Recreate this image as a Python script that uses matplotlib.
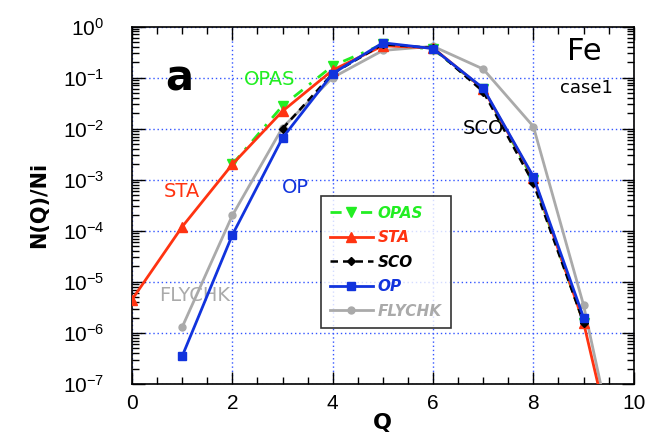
import matplotlib
matplotlib.use("Agg")
import matplotlib.pyplot as plt
from matplotlib.ticker import LogLocator, MultipleLocator, NullFormatter
import numpy as np

plt.rcParams["font.family"] = ["Liberation Sans", "DejaVu Sans"]
plt.rcParams["mathtext.default"] = "regular"

q_opas = [2, 3, 4, 5, 6, 7, 8, 9]
n_opas = [2.0e-3, 2.8e-2, 0.17, 0.45, 0.36, 0.06, 1.0e-3, 1.6e-6]

q_sta = [0, 1, 2, 3, 4, 5, 6, 7, 8, 9, 10]
n_sta = [4.5e-6, 1.2e-4, 2.0e-3, 2.2e-2, 0.14, 0.42, 0.38, 0.06, 1.1e-3, 1.6e-6, 1e-10]

q_sco = [3, 4, 5, 6, 7, 8, 9]
n_sco = [1.0e-2, 0.12, 0.45, 0.38, 0.053, 8.5e-4, 1.6e-6]

q_op = [1, 2, 3, 4, 5, 6, 7, 8, 9]
n_op = [3.5e-7, 8.3e-5, 6.6e-3, 0.12, 0.48, 0.37, 0.062, 1.15e-3, 2.0e-6]

q_fly = [1, 2, 3, 4, 5, 6, 7, 8, 9, 10]
n_fly = [1.3e-6, 2.0e-4, 1.05e-2, 0.10, 0.34, 0.41, 0.147, 1.1e-2, 3.5e-6, 1e-10]

ytick_vals = [1e-7, 1e-6, 1e-5, 1e-4, 1e-3, 1e-2, 1e-1, 1e0]
ytick_labels = [r"10$^{-7}$", r"10$^{-6}$", r"10$^{-5}$", r"10$^{-4}$", r"10$^{-3}$",
                r"10$^{-2}$", r"10$^{-1}$", r"10$^{0}$"]
xtick_vals = [0, 2, 4, 6, 8, 10]

fig = plt.figure(figsize=(6.48, 4.34), dpi=100)
ax = fig.add_axes([0.2037, 0.1152, 0.7743, 0.8237])

c_opas = "#22ee22"
c_sta = "#ff3311"
c_sco = "black"
c_op = "#1133dd"
c_fly = "#aaaaaa"

ax.plot(q_fly, n_fly, color=c_fly, lw=2, marker="o", ms=5, label="FLYCHK", zorder=3)
ax.plot(q_sta, n_sta, color=c_sta, lw=2, marker="^", ms=7, label="STA", zorder=4)
ax.plot(q_opas, n_opas, color=c_opas, lw=2, ls=(0, (4, 3, 1, 3)), marker="v", ms=7, label="OPAS", zorder=3.5)
ax.plot(q_sco, n_sco, color=c_sco, lw=1.8, ls=(0, (3, 2)), marker="D", ms=4.5, label="SCO", zorder=5)
ax.plot(q_op, n_op, color=c_op, lw=2, marker="s", ms=5.5, label="OP", zorder=6)

ax.set_yscale("log")
ax.set_xlim(0, 10)
ax.set_ylim(1e-7, 1e0)
ax.set_yticks(ytick_vals)
ax.set_yticklabels(ytick_labels)
ax.set_xticks(xtick_vals)
ax.xaxis.set_minor_locator(MultipleLocator(0.5))
ax.yaxis.set_minor_locator(LogLocator(base=10, subs=np.arange(2, 10), numticks=20))
ax.yaxis.set_minor_formatter(NullFormatter())
ax.tick_params(which="both", direction="in", top=True, right=True, labelsize=15, width=1)
ax.tick_params(which="major", length=9)
ax.tick_params(axis="y", which="major", pad=20)
ax.tick_params(axis="x", which="major", pad=7)
ax.tick_params(which="minor", length=5)
ax.grid(True, which="major", color="#3355ff", ls=(0, (1, 2)), lw=1)
for s in ax.spines.values():
    s.set_linewidth(1.2)

ax.set_xlabel("Q", fontsize=16, fontweight="bold", labelpad=0, family="DejaVu Sans")
ax.set_ylabel("N(Q)/Ni", fontsize=15, fontweight="bold", labelpad=10, family="DejaVu Sans")

ann = dict(family="DejaVu Sans", ha="center", va="center")
ax.text(0.95, 0.096, "a", fontsize=30, fontweight="bold", **ann)
ax.text(2.75, 0.09, "OPAS", fontsize=14, color=c_opas, **ann)
ax.text(1.0, 6e-4, "STA", fontsize=14, color=c_sta, **ann)
ax.text(3.25, 7e-4, "OP", fontsize=14, color=c_op, **ann)
ax.text(1.25, 5.5e-6, "FLYCHK", fontsize=14, color=c_fly, **ann)
ax.text(7.0, 1.0e-2, "SCO", fontsize=14, color="black", **ann)
ax.text(9.02, 0.33, "Fe", fontsize=22, **ann)
ax.text(9.05, 0.063, "case1", fontsize=13, **ann)

handles, labels = ax.get_legend_handles_labels()
order = ["OPAS", "STA", "SCO", "OP", "FLYCHK"]
hmap = dict(zip(labels, handles))
leg = ax.legend([hmap[k] for k in order], order, loc="upper left",
                bbox_to_anchor=(0.361, 0.546), fontsize=11, frameon=True,
                fancybox=False, edgecolor="black", handlelength=2.8,
                borderpad=0.6, labelspacing=0.62, handletextpad=0.3,
                prop={"family": "DejaVu Sans", "size": 11, "weight": "bold", "style": "italic"})
leg.get_frame().set_linewidth(1.2)
cols = {"OPAS": c_opas, "STA": c_sta, "SCO": "black", "OP": c_op, "FLYCHK": c_fly}
for t in leg.get_texts():
    t.set_color(cols[t.get_text()])

fig.savefig("out.png", dpi=100)
